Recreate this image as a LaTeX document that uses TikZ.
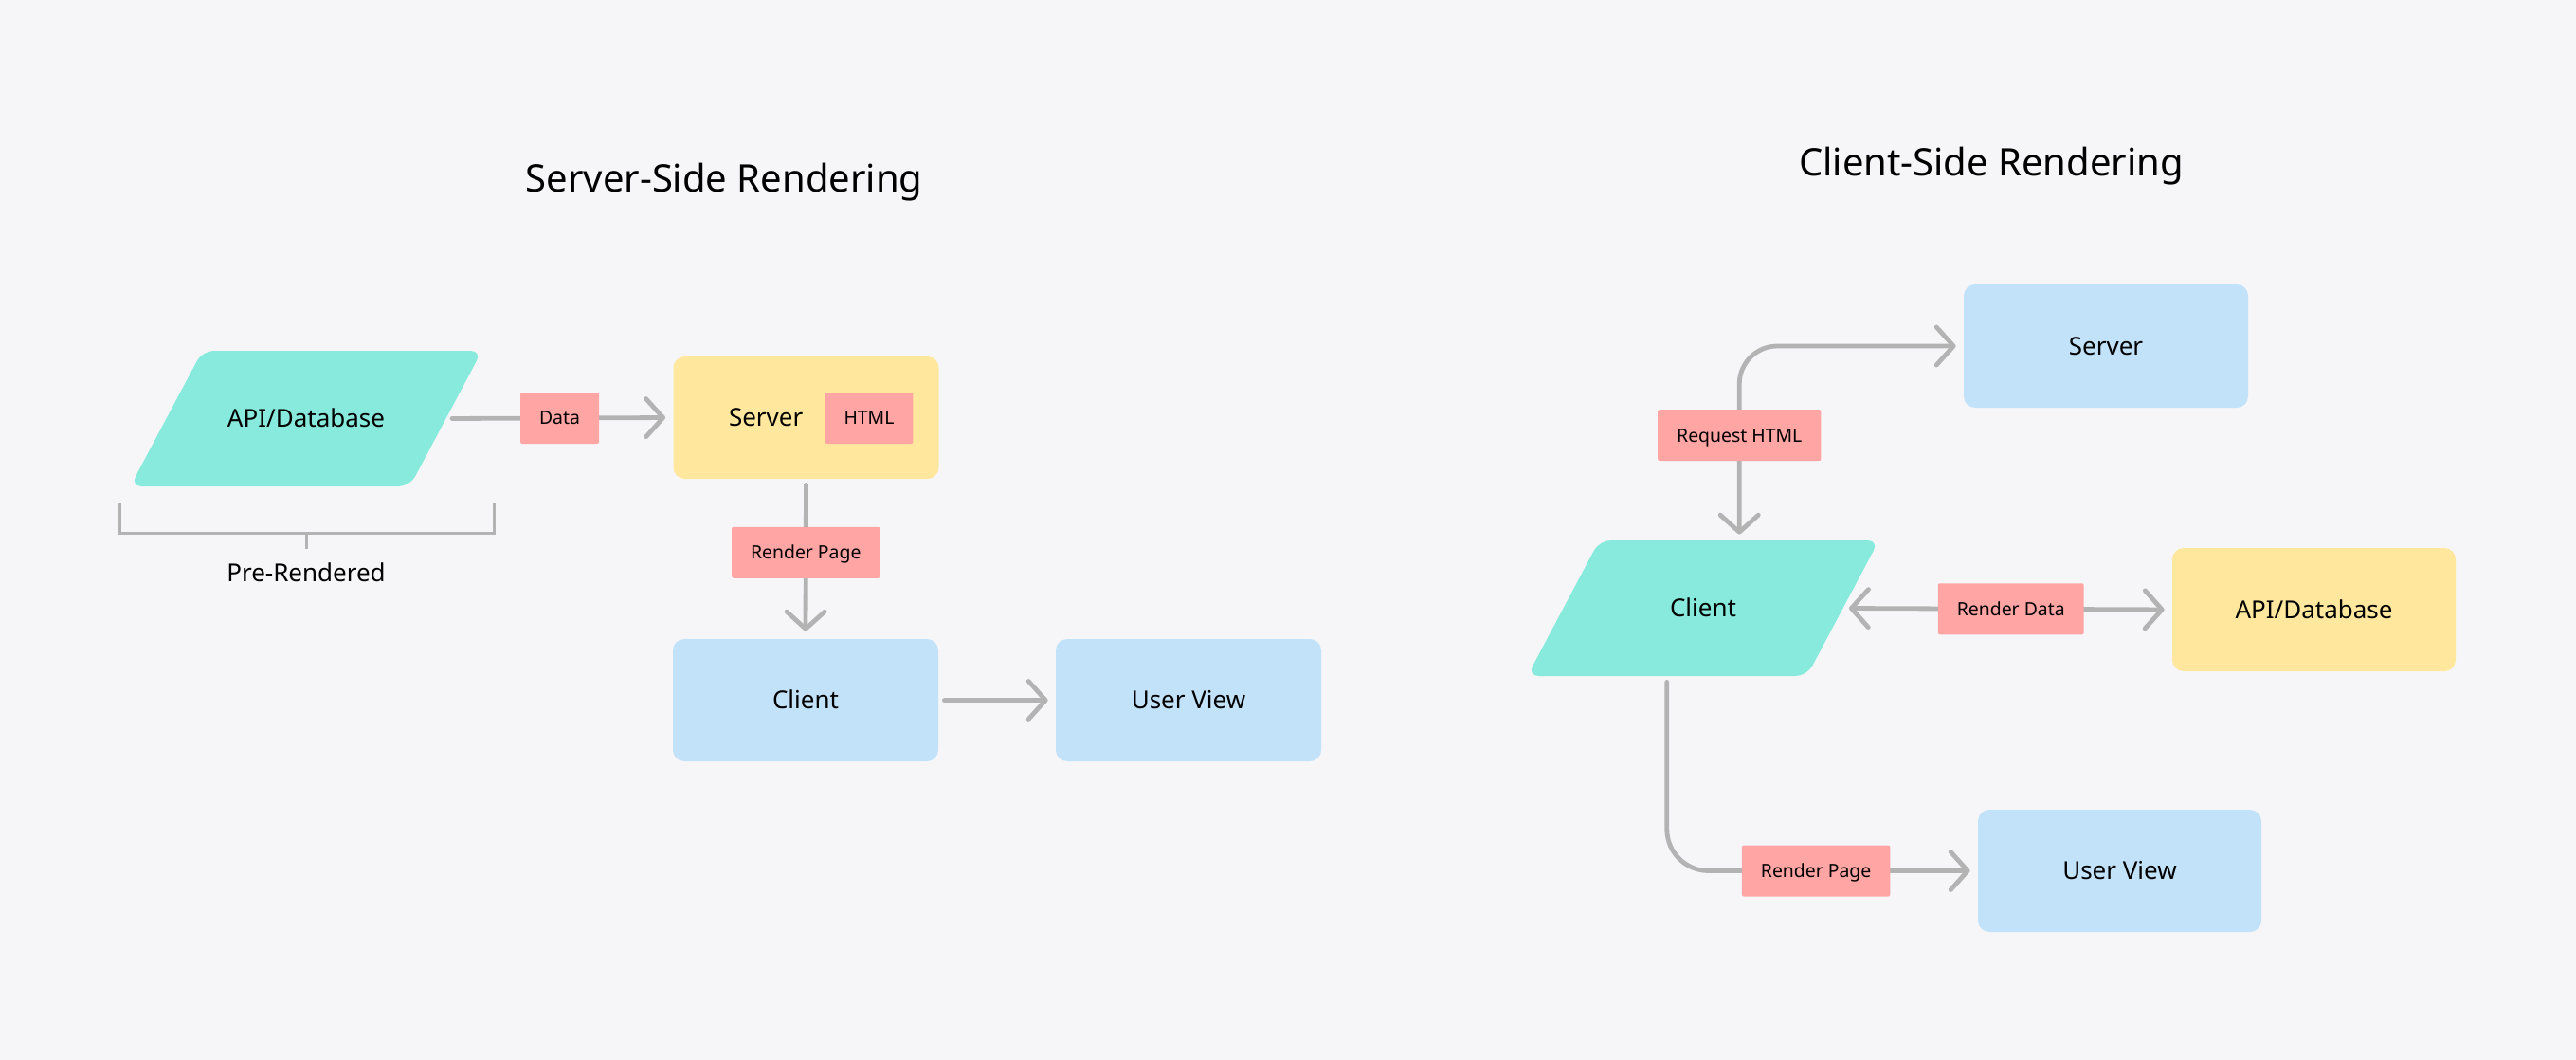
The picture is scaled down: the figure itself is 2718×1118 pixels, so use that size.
\documentclass[tikz,border=0pt]{standalone}
\usepackage{fontspec}
\setmainfont{Noto Sans}
\usetikzlibrary{arrows.meta,shapes.geometric}

\definecolor{bgcol}{HTML}{F6F6F8}
\definecolor{tealcol}{HTML}{87EADD}
\definecolor{yellowcol}{HTML}{FFE89E}
\definecolor{bluecol}{HTML}{C2E2FA}
\definecolor{pinkcol}{HTML}{FFA5A4}
\definecolor{linecol}{HTML}{B3B3B3}

\begin{document}
\begin{tikzpicture}[
    x=0.5pt, y=-0.5pt,
    >={Straight Barb[round, length=9pt, width=20pt]},
    heading/.style={
      anchor=base,
      font=\fontsize{20}{24}\selectfont
    },
    panel/.style={
      rectangle,
      rounded corners=6pt,
      minimum width=140pt,
      minimum height=64.5pt,
      inner sep=0pt,
      text height=9.3pt,
      text depth=0pt,
      font=\fontsize{13}{15}\selectfont
    },
    slanted/.style={
      trapezium,
      trapezium left angle=62,
      trapezium right angle=118,
      text width=109.5pt,
      align=center,
      inner xsep=0pt,
      inner ysep=31.1pt,
      rounded corners=6pt,
      fill=tealcol,
      text height=9.3pt,
      text depth=0pt,
      font=\fontsize{13}{15}\selectfont
    },
    tag/.style={
      fill=pinkcol,
      rounded corners=1pt,
      minimum height=27pt,
      inner xsep=10pt,
      inner ysep=0pt,
      text height=6.9pt,
      text depth=0pt,
      font=\fontsize{9.7}{11}\selectfont
    },
    link/.style={
      draw=linecol,
      line width=2.4pt,
      line cap=round,
      line join=round,
      shorten >=4pt,
      shorten <=3pt
    },
    bracketline/.style={
      draw=linecol,
      line width=1.5pt
    }
  ]

  \fill[bgcol] (0,0) rectangle (2718,1118);

  \node[heading] (sstitle) at (764,203) {Server-Side Rendering};
  \node[heading] (cstitle) at (2101,186) {Client-Side Rendering};

  \node[slanted] (sapi) at (323,441.5) {API/Database};
  \node[panel, fill=yellowcol, text width=81.5pt, align=left, inner xsep=29pt] (ssrv) at (850.5,440.5) {Server};
  \node[tag] (shtml) at (917,441) {HTML};
  \node[panel, fill=bluecol] (scli) at (850,738.5) {Client};
  \node[panel, fill=bluecol] (suv) at (1254,738.5) {User View};
  \node[panel, fill=none, minimum width=0pt, minimum height=0pt] (prer) at (323,604.5) {Pre-Rendered};

  \draw[link, ->] (sapi.right side) -- (ssrv.west) node[tag, midway] {Data};
  \draw[link, ->] (ssrv.south) -- (scli.north) node[tag, pos=0.46] {Render Page};
  \draw[link, ->] (scli.east) -- (suv.west);

  \draw[bracketline] (126,531) -- (126,562) -- (521,562) -- (521,531);
  \draw[bracketline] (323,562) -- (323,579);

  \node[slanted] (cli) at (1797,641.5) {Client};
  \node[panel, fill=bluecol, minimum width=150pt, minimum height=65pt] (csrv) at (2222,365) {Server};
  \node[panel, fill=yellowcol, minimum width=149.5pt, minimum height=65pt] (capi) at (2441.5,643) {API/Database};
  \node[panel, fill=bluecol, minimum width=149.5pt] (cuv) at (2236.5,918.5) {User View};

  \draw[link, <->, rounded corners=20pt] (cli.top side) |- (csrv.west) node[tag, pos=0.27] {Request HTML};
  \draw[link, <->] (cli.right side) -- (capi.west) node[tag, pos=0.51] {Render Data};
  \draw[link, ->, rounded corners=22pt] (cli.bottom side) |- (cuv.west) node[tag, pos=0.74] {Render Page};

\end{tikzpicture}
\end{document}
